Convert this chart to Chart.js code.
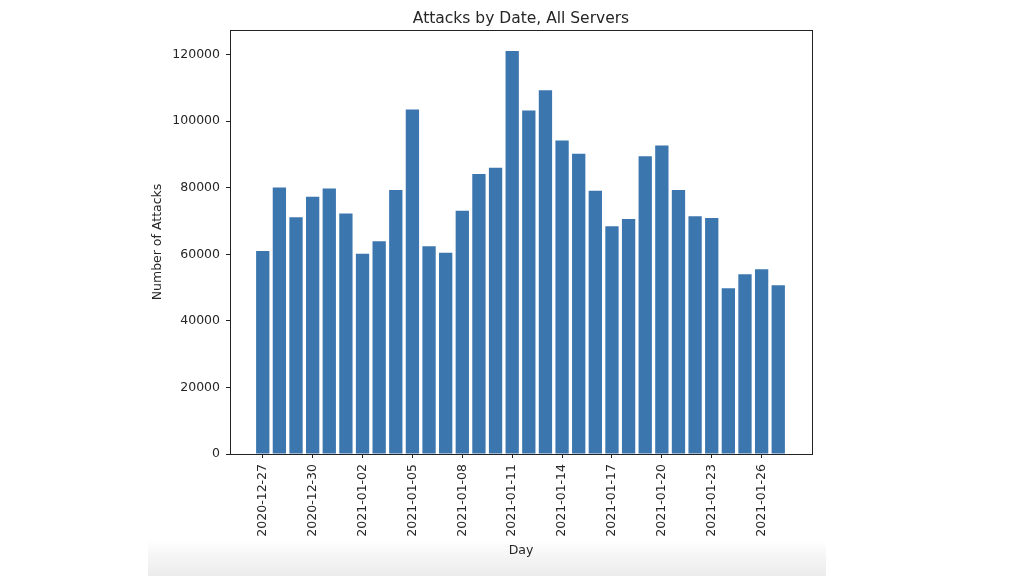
<!DOCTYPE html>
<html>
<head>
<meta charset="utf-8">
<script src="https://cdn.jsdelivr.net/npm/chart.js@4.4.1/dist/chart.umd.min.js"></script>
<style>
  html, body { margin: 0; padding: 0; background: #ffffff; }
  #wrap { position: relative; width: 1024px; height: 576px; overflow: hidden; }
  #band { position: absolute; left: 148px; top: 540px; width: 678px; height: 36px;
          background: linear-gradient(to bottom, rgba(255,255,255,1) 0%, #f5f5f5 45%, #ececec 100%); z-index: 0; }
  #c { position: absolute; left: 0; top: 0; z-index: 1; }
</style>
</head>
<body>
<div id="wrap">
  <div id="band"></div>
  <canvas id="c" width="1024" height="576"></canvas>
</div>
<script>
const dates = ['2020-12-27','2020-12-28','2020-12-29','2020-12-30','2020-12-31','2021-01-01','2021-01-02','2021-01-03',
  '2021-01-04','2021-01-05','2021-01-06','2021-01-07','2021-01-08','2021-01-09','2021-01-10','2021-01-11',
  '2021-01-12','2021-01-13','2021-01-14','2021-01-15','2021-01-16','2021-01-17','2021-01-18','2021-01-19',
  '2021-01-20','2021-01-21','2021-01-22','2021-01-23','2021-01-24','2021-01-25','2021-01-26','2021-01-27'];
const attacks = [61000, 80100, 71100, 77300, 79800, 72300, 60200, 63900,
  79300, 103500, 62400, 60500, 73100, 84100, 86000, 121100,
  103200, 109300, 94200, 90200, 79100, 68400, 70600, 89500,
  92700, 79300, 71400, 70900, 49800, 54000, 55500, 50700];
const xTickDates = ['2020-12-27','2020-12-30','2021-01-02','2021-01-05','2021-01-08','2021-01-11',
  '2021-01-14','2021-01-17','2021-01-20','2021-01-23','2021-01-26'];
const yTicks = [0, 20000, 40000, 60000, 80000, 100000, 120000];
const chartTitle = 'Attacks by Date, All Servers';

const FONT = 'DejaVu Sans';
const TXT = '#262626';

const framePlugin = {
  id: 'frame',
  afterDatasetsDraw(chart) {
    const {ctx, chartArea: a} = chart;
    ctx.save();
    ctx.strokeStyle = '#222';
    ctx.lineWidth = 1;
    ctx.strokeRect(Math.round(a.left) + 0.5, Math.round(a.top) + 0.5,
                   Math.round(a.right - a.left), Math.round(a.bottom - a.top));
    ctx.restore();
  }
};

const axesTitlePlugin = {
  id: 'axesTitle',
  afterDraw(chart) {
    const {ctx, chartArea: a} = chart;
    ctx.save();
    ctx.fillStyle = TXT;
    ctx.font = '15.5px "' + FONT + '"';
    ctx.textAlign = 'center';
    ctx.textBaseline = 'alphabetic';
    ctx.fillText(chartTitle, (a.left + a.right) / 2, 23);
    ctx.restore();
  }
};

new Chart(document.getElementById('c'), {
  type: 'bar',
  data: {
    datasets: [{
      data: attacks.map((v, i) => ({x: i, y: v})),
      backgroundColor: '#3b76af',
      borderWidth: 0,
      barPercentage: 0.8,
      categoryPercentage: 1.0
    }]
  },
  options: {
    responsive: false,
    animation: false,
    devicePixelRatio: 1,
    layout: { padding: { left: 150, right: 212, top: 30, bottom: 17.5 } },
    plugins: {
      legend: { display: false },
      tooltip: { enabled: false },
      title: { display: false }
    },
    scales: {
      x: {
        type: 'linear',
        min: -1.97,
        max: 33.03,
        offset: false,
        afterFit(scale) { scale.height = 104.5; },
        afterBuildTicks(scale) {
          scale.ticks = xTickDates.map(d => ({ value: dates.indexOf(d) }));
        },
        ticks: {
          autoSkip: false,
          minRotation: 90,
          maxRotation: 90,
          padding: 6,
          color: TXT,
          font: { family: FONT, size: 12.5 },
          callback: (v) => dates[v] ?? ''
        },
        grid: { display: true, offset: false, drawOnChartArea: false, drawTicks: true, tickLength: 4, color: '#222' },
        border: { display: true, color: '#222' },
        title: {
          display: true,
          text: 'Day',
          color: TXT,
          font: { family: FONT, size: 12.5, lineHeight: 1.2 },
          padding: { top: 0, bottom: 0 }
        }
      },
      y: {
        min: 0,
        max: 127400,
        afterFit(scale) { scale.width = 80; },
        afterBuildTicks(scale) {
          scale.ticks = yTicks.map(v => ({ value: v }));
        },
        ticks: {
          padding: 6,
          color: TXT,
          font: { family: FONT, size: 12.5 },
          callback: (v) => String(v)
        },
        grid: { display: true, drawOnChartArea: false, drawTicks: true, tickLength: 4, color: '#222' },
        border: { display: true, color: '#222' },
        title: {
          display: true,
          text: 'Number of Attacks',
          color: TXT,
          font: { family: FONT, size: 12.5, lineHeight: 1.2 },
          padding: { top: 0, bottom: 0 }
        }
      }
    }
  },
  plugins: [framePlugin, axesTitlePlugin]
});
</script>
</body>
</html>
